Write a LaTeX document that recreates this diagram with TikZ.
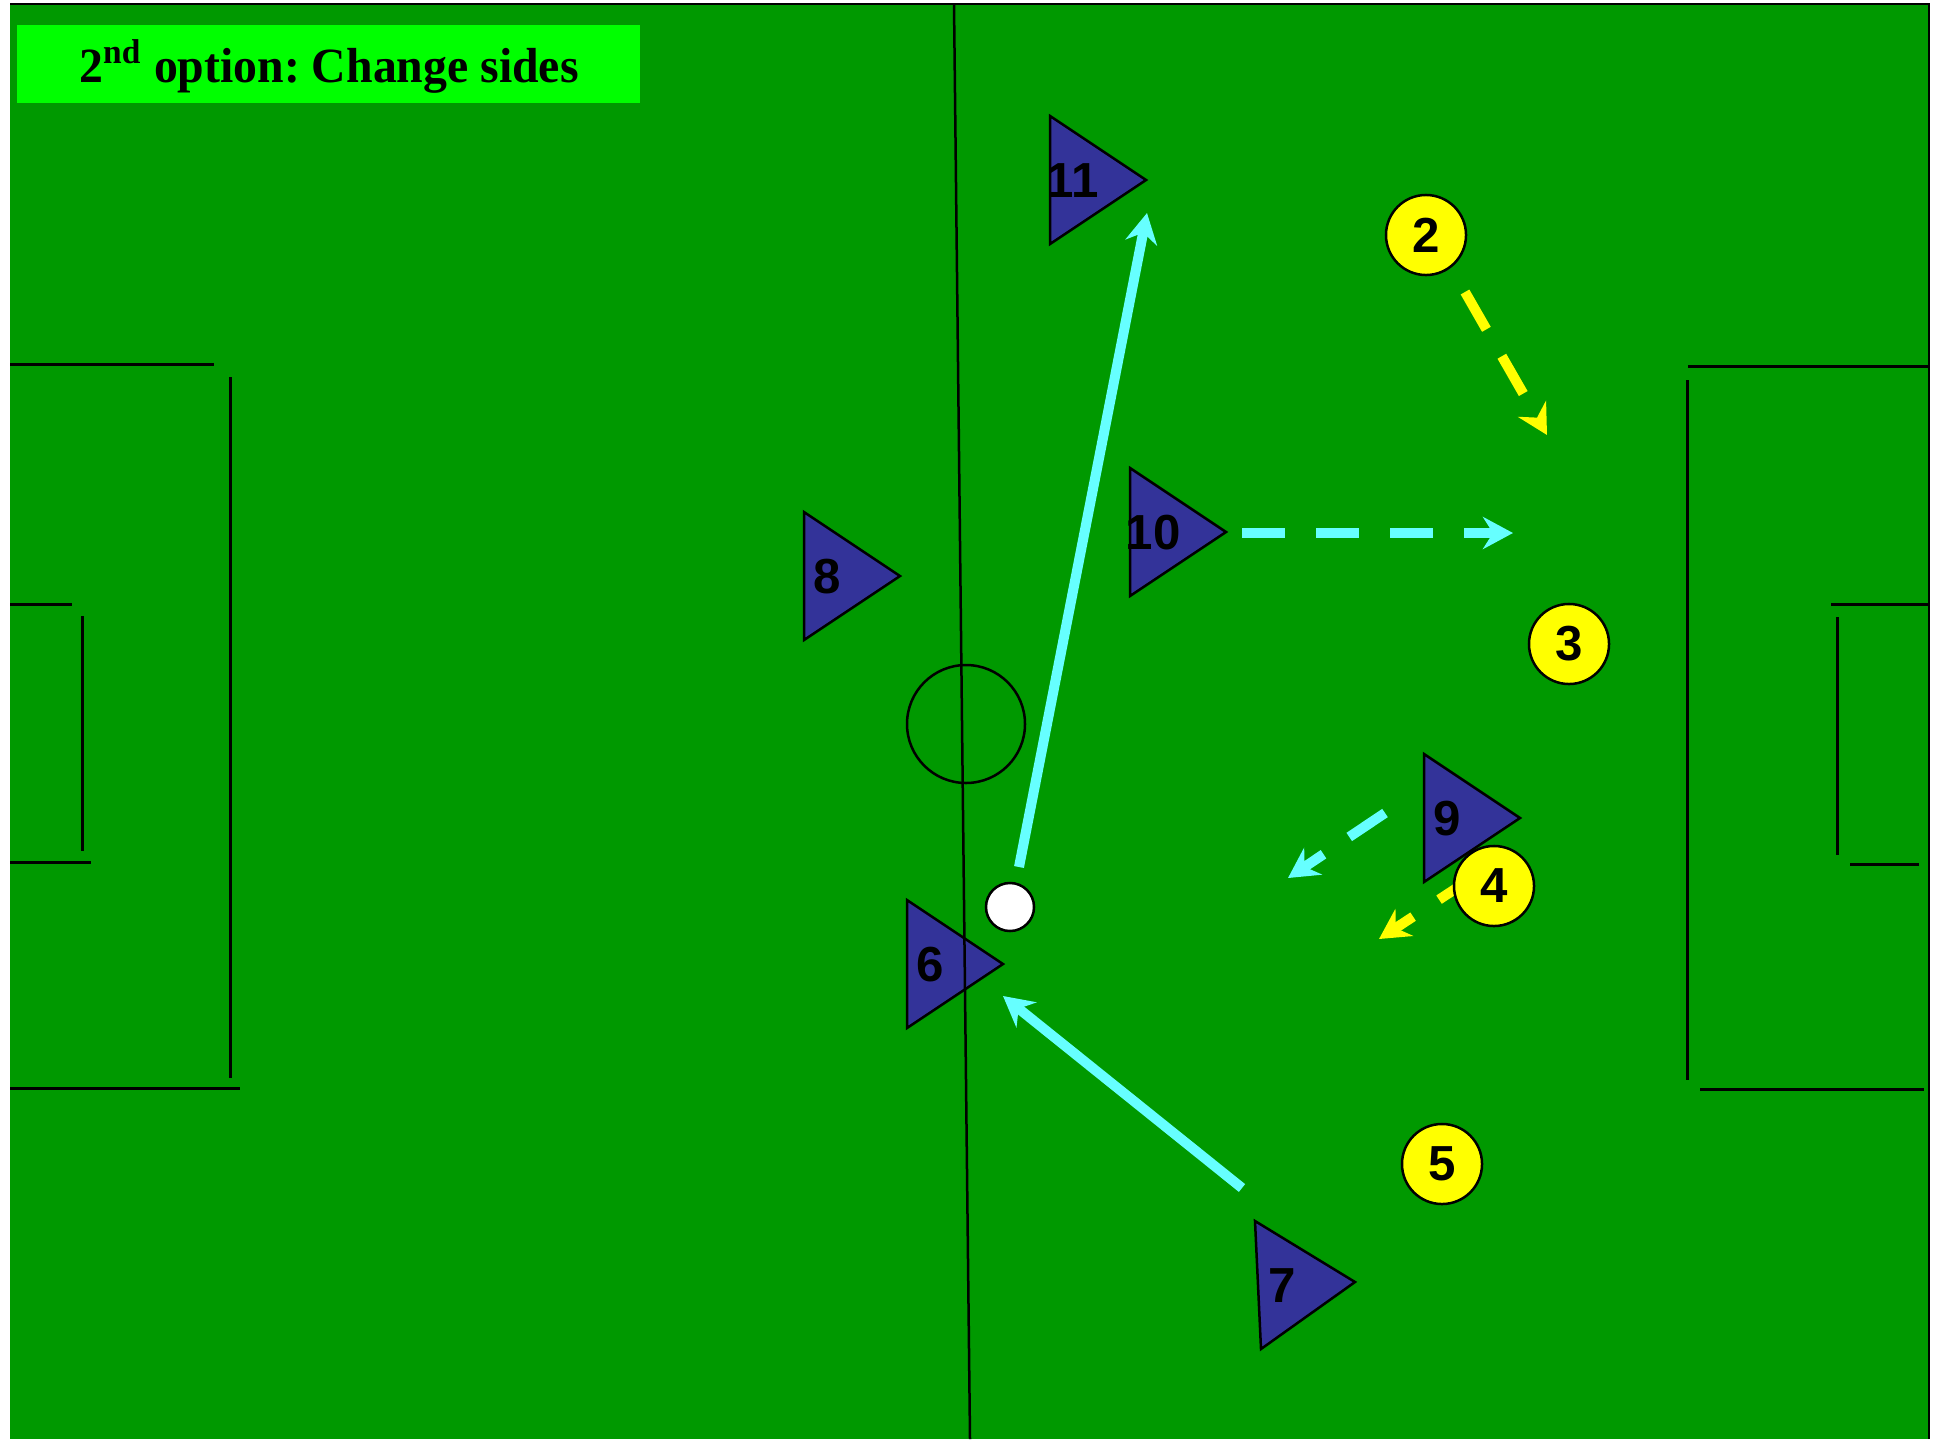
\documentclass[tikz,border=0pt]{standalone}
\usepackage{fontspec}
\setmainfont{Liberation Serif}
\newfontfamily\numfont{Liberation Sans}
\newfontfamily\titlefont[FakeStretch=0.97]{Liberation Serif}
\usetikzlibrary{arrows.meta}
\definecolor{PitchGreen}{HTML}{009900}
\definecolor{TagGreen}{HTML}{00FF00}
\definecolor{TeamBlue}{HTML}{333399}
\definecolor{OppYellow}{HTML}{FFFF00}
\definecolor{PassCyan}{HTML}{66FFFF}
\tikzset{
  every node/.style={font=\numfont\bfseries\fontsize{14}{14}\selectfont, text=black},
  marking/.style={draw=black, line width=0.03cm},
  player/.style={draw=black, line width=0.025cm, fill=TeamBlue},
  rival/.style={circle, draw=black, line width=0.025cm, fill=OppYellow, minimum size=0.8cm, inner sep=0pt},
  ballnode/.style={circle, draw=black, line width=0.025cm, fill=white, minimum size=0.48cm, inner sep=0pt},
  pass/.style={-{Stealth[length=0.3cm,width=0.32cm,inset=0.1cm]}, draw=PassCyan, line width=0.1cm},
  run/.style={pass, dash pattern=on 0.43cm off 0.31cm},
  runyellow/.style={run, draw=OppYellow},
}
\frenchspacing

\begin{document}
\begin{tikzpicture}[x=0.01cm,y=-0.01cm]
  % Pixel grid of the 1942 x 1439 sketch, y pointing down
  \useasboundingbox (0,0) rectangle (1942,1439);
  \fill[white] (0,0) rectangle (1942,1439);
  \fill[PitchGreen] (10,4) rectangle (1929,1439);
  \draw[line width=0.02cm] (10,4) -- (1929,4) -- (1929,1439);
  % Left penalty and goal area
  \draw[marking] (10,364) -- (214,364);
  \draw[marking] (230,377) -- (230,1078);
  \draw[marking] (10,1088) -- (240,1088);
  \draw[marking] (10,604) -- (72,604);
  \draw[marking] (82,616) -- (82,851);
  \draw[marking] (10,862) -- (91,862);
  % Right penalty and goal area
  \draw[marking] (1688,366) -- (1929,366);
  \draw[marking] (1687,380) -- (1687,1080);
  \draw[marking] (1700,1089) -- (1924,1089);
  \draw[marking] (1831,604) -- (1929,604);
  \draw[marking] (1837,617) -- (1837,855);
  \draw[marking] (1850,864) -- (1919,864);
  % Centre circle
  \draw[line width=0.025cm] (966,724) circle (59);
  % Title
  \fill[TagGreen] (17,25) rectangle (640,103);
  \node[font=\titlefont\bfseries\fontsize{14}{14}\selectfont, anchor=base] (title) at (329,82) {2\textsuperscript{nd} option: Change sides};
  % Run and pass end points
  \coordinate (s11) at (1019,867);  \coordinate (e11) at (1147,213);
  \coordinate (s6) at (1242,1188);  \coordinate (e6) at (1003,996);
  \coordinate (s10) at (1242,533);  \coordinate (e10) at (1513,533);
  \coordinate (s9) at (1385,813);   \coordinate (e9) at (1288,878);
  \coordinate (y2s) at (1465,292);  \coordinate (y2e) at (1547,435);
  \coordinate (y4s) at (1475,876);  \coordinate (y4e) at (1379,939);
  \draw[pass] (s11) -- (e11);
  \draw[pass] (s6) -- (e6);
  \draw[run] (s10) -- (e10);
  \draw[run] (s9) -- (e9);
  \draw[runyellow] (y2s) -- (y2e);
  \draw[runyellow] (y4s) -- (y4e);
  % Blue team: left edge x, centre y
  \foreach \n/\x/\y in {11/1050/180, 10/1130/532, 8/804/576, 6/907/964, 9/1424/818}{
    \draw[player] (\x,\y-64) -- (\x+96,\y) -- (\x,\y+64) -- cycle;
    \node (p\n) at (\x+23,\y+1) {\n};
  }
  \draw[player] (1255,1221) -- (1355,1282) -- (1261,1349) -- cycle;
  \node (p7) at (1282,1286) {7};
  % Yellow team
  \foreach \n/\x/\y in {2/1426/235, 3/1569/644, 4/1494/886, 5/1442/1164}
    \node[rival] (o\n) at (\x,\y) {\n};
  \node[ballnode] (ball) at (1010,907) {};
  % Halfway line
  \draw[line width=0.025cm] (954,4) -- (970,1439);
\end{tikzpicture}
\end{document}
